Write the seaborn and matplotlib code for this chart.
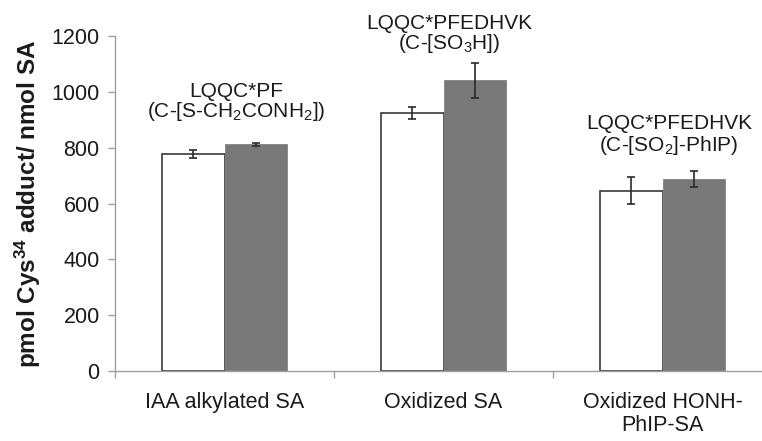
import numpy as np
import pandas as pd
import matplotlib
matplotlib.use("Agg")
import matplotlib.pyplot as plt
import seaborn as sns

# ---- data ----
categories = ["IAA alkylated SA", "Oxidized SA", "Oxidized HONH-\nPhIP-SA"]
series = ["A", "B"]
values_a = [777, 925, 646]
values_b = [812, 1042, 688]
err_a = [13, 22, 48]
err_b = [6, 63, 28]
yticks = [0, 200, 400, 600, 800, 1000, 1200]
annot_line1 = ["LQQC*PF", "LQQC*PFEDHVK", "LQQC*PFEDHVK"]
annot_line2 = [r"(C-[S-CH$_2$CONH$_2$])", r"(C-[SO$_3$H])", r"(C-[SO$_2$]-PhIP)"]
annot_y1 = [981, 1225, 867]
annot_y2 = [910, 1153, 788]
annot_x = [0.053, 1.025, 2.03]

df = pd.DataFrame({
    "category": categories * 2,
    "series": [series[0]] * 3 + [series[1]] * 3,
    "value": values_a + values_b,
    "err": err_a + err_b,
})

sns.set_theme(style="white")
plt.rcParams["font.family"] = ["Liberation Sans", "DejaVu Sans"]
plt.rcParams["mathtext.fontset"] = "custom"
plt.rcParams["mathtext.rm"] = "Liberation Sans"
plt.rcParams["mathtext.it"] = "Liberation Sans"
plt.rcParams["mathtext.bf"] = "Liberation Sans:bold"

fig = plt.figure(figsize=(7.62, 4.41), dpi=100)
ax = fig.add_axes([115 / 762, 70 / 441, 657 / 762, 335 / 441])

sns.barplot(data=df, x="category", y="value", hue="series",
            palette={"A": "white", "B": "#787878"}, width=0.57, gap=0,
            errorbar=None, legend=False, ax=ax, saturation=1)

# styling bars and error bars
for container, errs, s in zip(ax.containers, [err_a, err_b], series):
    for patch, e in zip(container, errs):
        if s == "A":
            patch.set_edgecolor("#3a3a3a")
            patch.set_linewidth(1.2)
        else:
            patch.set_edgecolor("#828282")
            patch.set_linewidth(0.6)
        cx = patch.get_x() + patch.get_width() / 2
        h = patch.get_height()
        ax.errorbar(cx, h, yerr=e, fmt="none", ecolor="#2a2a2a",
                    elinewidth=1.2, capsize=3, capthick=1.2, zorder=5)

ax.set_ylim(0, 1200)
ax.set_xlim(-0.5, 2.5)
ax.set_yticks(yticks)
ax.set_yticklabels([str(v) for v in yticks], fontsize=15.5, color="#1a1a1a")
ax.tick_params(axis="y", which="major", length=5, width=1, color="#a0a0a0",
               direction="out", left=True, pad=6)
ax.set_xticks(range(3))
ax.set_xticklabels(categories, fontsize=15.5, color="#1a1a1a", linespacing=1.15)
ax.set_xticks([-0.5, 0.5, 1.5, 2.5], minor=True)
ax.tick_params(axis="x", which="major", length=0, pad=15)
ax.tick_params(axis="x", which="minor", length=5, width=1, color="#a0a0a0",
               direction="out", bottom=True)

for sp in ["top", "right"]:
    ax.spines[sp].set_visible(False)
for sp in ["left", "bottom"]:
    ax.spines[sp].set_color("#a0a0a0")
    ax.spines[sp].set_linewidth(1.0)

ax.set_xlabel("")
ax.set_ylabel(r"pmol Cys$^{\mathbf{34}}$ adduct/ nmol SA", fontsize=17.5,
              fontweight="bold", color="#1a1a1a", labelpad=6)

for x, y1, y2, t1, t2 in zip(annot_x, annot_y1, annot_y2, annot_line1, annot_line2):
    ax.text(x, y1, t1, ha="center", va="baseline", fontsize=15,
            color="#1a1a1a", clip_on=False)
    ax.text(x, y2, t2, ha="center", va="baseline", fontsize=15,
            color="#1a1a1a", clip_on=False)

fig.savefig("out.png", dpi=100)
